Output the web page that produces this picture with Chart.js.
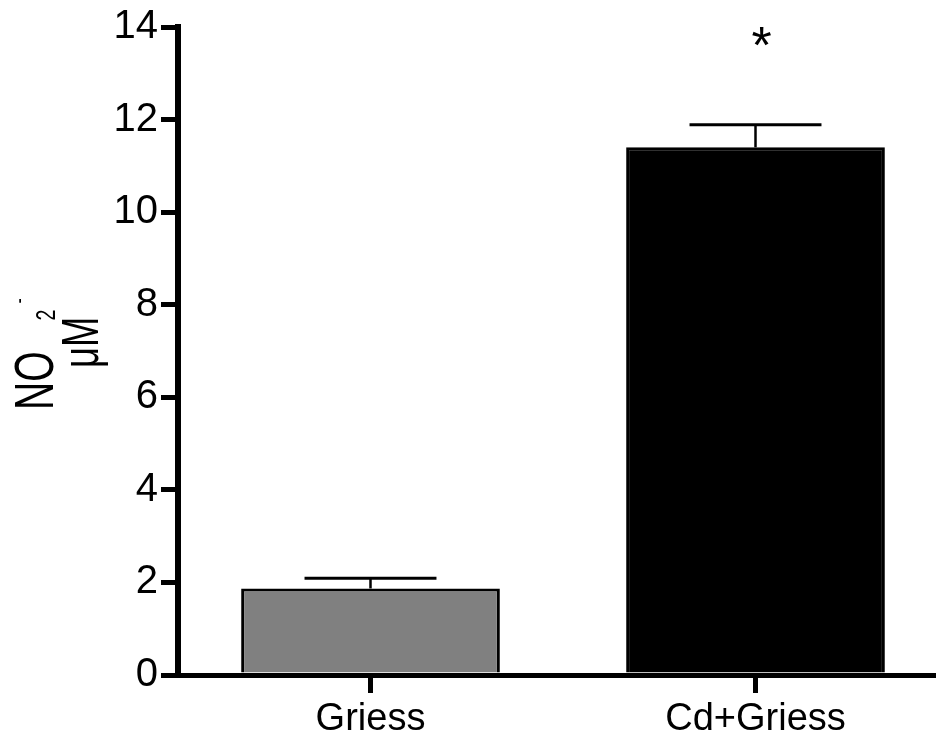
<!DOCTYPE html>
<html>
<head>
<meta charset="utf-8">
<script src="https://cdn.jsdelivr.net/npm/chart.js@4.4.0/dist/chart.umd.min.js"></script>
<style>
  html, body { margin: 0; padding: 0; background: #fff; overflow: hidden; }
  /* a little wider than the window so the x axis runs off the right edge */
  #wrap { width: 948px; height: 742px; }
</style>
</head>
<body>
<div id="wrap"><canvas id="chart"></canvas></div>
<script>
// values
const groups = ['Griess', 'Cd+Griess'];
const meanValues = [1.87, 11.40];
const semValues = [0.22, 0.49];
const significance = ['', '*'];
const starLevel = 13.7;
const barColors = ['#808080', '#000000'];

const FONT = '"Liberation Sans", Arial, Helvetica, sans-serif';

// error bars drawn upward from each bar, using the y scale
const errorBars = {
  id: 'errorBars',
  afterDatasetsDraw(chart) {
    const ctx = chart.ctx;
    const y = chart.scales.y;
    const meta = chart.getDatasetMeta(0);
    ctx.save();
    ctx.strokeStyle = '#000';
    meta.data.forEach((bar, i) => {
      const top = y.getPixelForValue(meanValues[i] + semValues[i]);
      const half = bar.width * 0.255;
      ctx.lineWidth = 2.5;
      ctx.beginPath();
      ctx.moveTo(bar.x, bar.y);
      ctx.lineTo(bar.x, top);
      ctx.stroke();
      ctx.lineWidth = 3;
      ctx.beginPath();
      ctx.moveTo(bar.x - half, top);
      ctx.lineTo(bar.x + half, top);
      ctx.stroke();
      if (significance[i]) {
        ctx.fillStyle = '#000';
        ctx.font = '52px ' + FONT;
        ctx.textAlign = 'center';
        ctx.textBaseline = 'middle';
        ctx.fillText(significance[i], bar.x + 6, y.getPixelForValue(starLevel) + 8);
      }
    });
    ctx.restore();
  }
};

// y title "NO2- / uM", rotated and condensed like the original
const yTitle = {
  id: 'yTitle',
  afterDraw(chart) {
    const ctx = chart.ctx;
    ctx.save();
    ctx.fillStyle = '#000';
    ctx.textAlign = 'left';
    ctx.textBaseline = 'alphabetic';
    ctx.translate(53, 410);
    ctx.rotate(-Math.PI / 2);
    ctx.scale(0.7, 1);
    ctx.font = '56px ' + FONT;
    ctx.fillText('NO', 0, 0);
    ctx.font = '28px ' + FONT;
    ctx.fillText('2', 128, 2);
    ctx.font = '22px ' + FONT;
    ctx.fillText('-', 152, -27);
    ctx.font = '52px ' + FONT;
    ctx.fillText('\u03BCM', 60, 45);
    ctx.restore();
  }
};

new Chart(document.getElementById('chart'), {
  type: 'bar',
  data: {
    labels: groups,
    datasets: [{
      data: meanValues,
      backgroundColor: barColors,
      borderColor: '#000',
      borderWidth: 3,
      borderSkipped: 'bottom',
      categoryPercentage: 1,
      barPercentage: 0.672
    }]
  },
  options: {
    responsive: true,
    maintainAspectRatio: false,
    animation: false,
    layout: { padding: { top: 20, right: 0, left: 0, bottom: 0 } },
    plugins: { legend: { display: false }, tooltip: { enabled: false } },
    scales: {
      x: {
        afterFit: (s) => { s.height = 67; },
        border: { display: true, color: '#000', width: 5 },
        grid: { drawOnChartArea: false, drawTicks: true, offset: false, tickLength: 18, lineWidth: 5, color: '#000' },
        ticks: { color: '#000', font: { family: FONT, size: 38 }, padding: 4 }
      },
      y: {
        min: 0,
        max: 14,
        afterFit: (s) => { s.width = 178; },
        border: { display: true, color: '#000', width: 6 },
        grid: { drawOnChartArea: false, drawTicks: true, tickLength: 17, lineWidth: 5, color: '#000' },
        ticks: { stepSize: 2, color: '#000', font: { family: FONT, size: 40 }, padding: 3 }
      }
    }
  },
  plugins: [errorBars, yTitle]
});
</script>
</body>
</html>
